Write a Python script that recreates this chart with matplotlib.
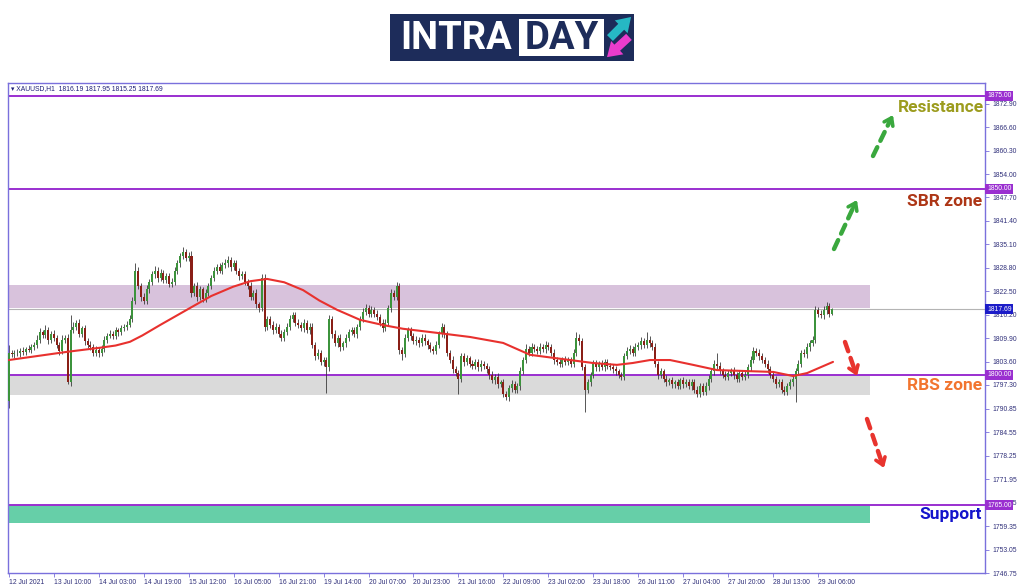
import matplotlib
matplotlib.use('Agg')
import matplotlib.pyplot as plt
from matplotlib.patches import Rectangle
from matplotlib.transforms import blended_transform_factory

# ---------------- data ----------------
symbol_header = "\u25be XAUUSD,H1  1816.19 1817.95 1815.25 1817.69"
first_open = 1793.0
closes = [
    1806.0, 1805.5, 1806.0, 1805.8, 1806.5, 1806.2, 1807.0, 1806.8, 1807.5, 1808.0,
    1809.5, 1811.5, 1810.8, 1812.0, 1809.5, 1811.0, 1810.0, 1808.0, 1806.5, 1809.5,
    1810.0, 1798.0, 1812.0, 1813.0, 1814.0, 1811.0, 1812.5, 1809.0, 1808.0, 1807.5,
    1806.0, 1806.8, 1806.0, 1807.0, 1809.5, 1810.5, 1811.0, 1810.5, 1812.0, 1811.5,
    1812.5, 1813.0, 1813.5, 1815.0, 1820.0, 1828.0, 1824.0, 1821.0, 1820.0, 1823.0,
    1825.0, 1827.0, 1828.0, 1826.0, 1827.5, 1825.5, 1826.5, 1824.5, 1825.0, 1828.0,
    1830.0, 1832.0, 1833.0, 1831.5, 1832.0, 1822.0, 1824.0, 1821.0, 1823.0, 1820.5,
    1822.0, 1824.0, 1826.0, 1828.0, 1829.0, 1828.0, 1829.5, 1830.0, 1831.0, 1829.0,
    1830.0, 1828.0, 1826.5, 1827.0, 1825.0, 1824.0, 1821.0, 1822.0, 1819.0, 1818.0,
    1826.0, 1813.0, 1815.0, 1813.5, 1812.0, 1813.0, 1811.0, 1810.0, 1811.5, 1813.0,
    1815.0, 1816.0, 1814.0, 1813.5, 1812.5, 1814.0, 1812.0, 1813.0, 1808.0, 1805.0,
    1806.0, 1803.5, 1804.0, 1802.0, 1815.0, 1811.0, 1808.5, 1810.0, 1807.5, 1808.5,
    1810.0, 1811.5, 1812.0, 1811.0, 1813.0, 1815.0, 1817.0, 1818.0, 1816.5, 1817.5,
    1816.5, 1815.5, 1814.0, 1812.5, 1814.0, 1818.0, 1822.0, 1821.0, 1824.0, 1806.7,
    1805.5, 1810.0, 1812.0, 1810.5, 1809.0, 1809.5, 1808.5, 1810.0, 1809.0, 1808.0,
    1807.0, 1806.5, 1808.0, 1811.0, 1813.0, 1811.0, 1806.0, 1804.0, 1801.5, 1800.5,
    1799.0, 1805.0, 1803.5, 1804.5, 1803.0, 1802.5, 1803.5, 1802.0, 1803.0, 1802.5,
    1801.5, 1800.0, 1798.5, 1799.5, 1797.5, 1798.0, 1795.0, 1794.0, 1796.5, 1797.5,
    1796.0, 1797.0, 1801.0, 1804.0, 1807.0, 1806.0, 1807.5, 1807.0, 1806.5, 1807.5,
    1807.0, 1808.0, 1807.5, 1806.0, 1804.0, 1803.5, 1803.0, 1804.0, 1803.5, 1804.0,
    1803.0, 1806.0, 1810.0, 1809.0, 1802.0, 1796.0, 1798.0, 1800.0, 1803.0, 1802.0,
    1803.0, 1802.0, 1803.5, 1802.5, 1802.0, 1801.5, 1801.0, 1800.0, 1799.5, 1805.0,
    1806.5, 1807.0, 1806.0, 1807.5, 1808.0, 1809.0, 1808.0, 1809.5, 1808.5, 1807.5,
    1803.0, 1800.0, 1801.0, 1799.0, 1798.0, 1798.5, 1797.5, 1798.0, 1797.0, 1798.5,
    1797.5, 1798.0, 1797.0, 1798.0, 1796.0, 1795.0, 1797.0, 1795.5, 1797.0, 1799.0,
    1801.0, 1803.0, 1802.5, 1801.0, 1800.0, 1799.5, 1800.5, 1801.0, 1800.0, 1799.0,
    1800.5, 1799.5, 1800.0, 1802.0, 1804.0, 1806.5, 1806.0, 1805.0, 1804.0, 1803.0,
    1801.5, 1800.0, 1799.0, 1797.5, 1798.0, 1796.0, 1795.5, 1797.0, 1798.0, 1799.0,
    1801.0, 1803.0, 1806.0, 1805.5, 1807.5, 1808.5, 1809.5, 1817.5, 1816.5, 1816.0,
    1817.5, 1818.5, 1816.5, 1817.69,
]
upper_wicks = [
    2.0, 0.8, 0.6, 1.0, 0.7, 0.9, 0.6, 1.1, 0.8, 0.9,
    1.2, 1.0, 0.7, 1.3, 0.8, 0.9, 1.0, 0.7, 0.9, 1.1,
    0.8, 1.0, 4.0, 1.2, 0.8, 1.0, 0.7, 0.9, 0.8, 1.0,
    0.7, 0.9, 0.8, 1.0, 0.9, 0.7, 1.1, 0.8, 0.9, 0.7,
    1.0, 0.8, 0.9, 1.2, 1.0, 2.0, 1.0, 0.8, 0.9, 1.1,
    0.8, 1.0, 1.2, 0.9, 1.0, 0.7, 0.9, 0.8, 1.0, 0.9,
    1.0, 0.8, 1.5, 0.9, 1.0, 1.2, 0.8, 1.0, 0.9, 0.7,
    1.0, 0.8, 0.9, 1.1, 0.8, 1.0, 0.9, 1.2, 1.0, 0.8,
    1.0, 0.9, 0.7, 1.0, 0.8, 0.9, 1.1, 0.8, 1.0, 0.7,
    1.0, 1.2, 0.9, 0.8, 1.0, 0.9, 0.7, 1.0, 0.8, 0.9,
    1.0, 0.9, 0.8, 1.0, 0.7, 0.9, 0.8, 1.0, 0.9, 0.8,
    1.0, 0.7, 0.9, 0.8, 1.0, 0.9, 1.1, 0.8, 0.9, 0.7,
    1.0, 0.8, 0.9, 1.0, 0.8, 0.9, 1.0, 1.1, 0.8, 0.9,
    0.7, 1.0, 0.8, 0.9, 1.0, 0.8, 1.0, 0.9, 1.0, 0.8,
    0.9, 1.0, 0.8, 0.9, 0.7, 1.0, 0.8, 0.9, 1.0, 0.7,
    0.9, 0.8, 1.0, 0.9, 1.0, 0.8, 0.9, 0.7, 1.0, 0.8,
    0.9, 1.0, 0.8, 0.9, 0.7, 1.0, 0.8, 0.9, 1.0, 0.7,
    0.8, 0.9, 1.0, 0.8, 0.9, 0.7, 1.0, 0.8, 0.9, 1.0,
    0.8, 0.9, 1.0, 0.8, 1.2, 0.9, 1.0, 0.8, 0.9, 1.0,
    0.8, 1.1, 0.9, 0.8, 1.0, 0.7, 0.9, 0.8, 1.0, 0.9,
    0.8, 1.0, 1.5, 0.9, 0.8, 1.0, 0.9, 0.8, 1.0, 0.9,
    0.8, 1.0, 0.7, 0.9, 0.8, 1.0, 0.9, 0.7, 0.8, 1.0,
    0.9, 1.0, 0.8, 1.0, 0.9, 1.2, 0.8, 2.0, 0.9, 0.8,
    1.0, 0.8, 0.9, 0.7, 1.0, 0.8, 0.9, 0.7, 1.0, 0.8,
    0.9, 0.8, 1.0, 0.9, 0.8, 1.0, 0.9, 0.8, 1.0, 0.9,
    0.8, 1.0, 3.0, 0.9, 0.8, 1.0, 0.9, 0.8, 1.0, 0.7,
    0.9, 0.8, 1.0, 0.9, 1.0, 1.0, 0.8, 0.9, 1.0, 0.8,
    0.9, 0.8, 1.0, 0.7, 0.9, 0.8, 1.0, 0.9, 0.8, 1.0,
    0.9, 1.0, 0.8, 0.9, 1.0, 0.8, 0.9, 1.0, 0.8, 0.9,
    1.0, 1.1, 0.8, 0.3,
]
lower_wicks = [
    2.0, 0.8, 0.9, 0.7, 1.0, 0.8, 0.9, 0.7, 1.0, 0.8,
    0.9, 1.0, 0.8, 0.9, 1.2, 0.8, 1.0, 0.9, 1.1, 0.8,
    1.0, 0.5, 0.9, 0.8, 1.0, 0.9, 0.8, 1.0, 0.7, 0.9,
    1.0, 0.8, 1.2, 0.9, 0.8, 1.0, 0.7, 0.9, 0.8, 1.0,
    0.9, 0.8, 1.0, 0.7, 0.9, 1.0, 0.8, 1.2, 1.0, 0.9,
    1.0, 0.8, 0.9, 1.0, 0.7, 0.9, 0.8, 1.0, 0.9, 0.8,
    1.0, 0.9, 0.8, 1.0, 0.9, 1.0, 0.8, 1.1, 0.9, 1.0,
    0.8, 0.9, 1.0, 0.8, 0.9, 0.7, 1.0, 0.8, 0.9, 1.0,
    0.8, 0.9, 1.0, 0.8, 0.9, 1.0, 0.8, 0.9, 1.1, 1.0,
    0.9, 1.2, 0.8, 0.9, 1.0, 0.8, 0.9, 1.0, 0.8, 0.9,
    1.0, 0.8, 0.9, 1.0, 0.7, 0.9, 0.8, 1.0, 0.9, 1.0,
    0.8, 0.9, 1.0, 6.8, 0.9, 1.0, 0.8, 0.9, 1.0, 0.8,
    0.9, 1.0, 0.8, 0.9, 1.0, 0.8, 0.9, 1.0, 0.8, 0.9,
    1.0, 0.8, 0.9, 1.0, 0.8, 0.9, 1.0, 0.8, 0.9, 1.0,
    1.5, 0.8, 0.9, 1.0, 0.8, 0.9, 1.0, 0.8, 0.9, 1.0,
    0.8, 0.9, 1.0, 0.8, 0.9, 1.0, 0.8, 0.9, 1.0, 0.8,
    4.0, 0.9, 1.0, 0.8, 0.9, 1.0, 0.8, 0.9, 1.0, 0.8,
    0.9, 1.0, 0.8, 0.9, 1.0, 0.8, 1.0, 0.7, 0.9, 1.0,
    0.8, 0.9, 1.0, 0.8, 0.9, 1.0, 0.8, 0.9, 1.0, 0.8,
    0.9, 1.0, 0.8, 0.9, 1.0, 0.8, 0.9, 1.0, 0.8, 0.9,
    1.0, 0.8, 0.9, 1.0, 0.8, 6.0, 0.9, 1.0, 0.8, 0.9,
    1.0, 0.8, 0.9, 1.0, 0.8, 0.9, 1.0, 0.8, 0.9, 1.0,
    0.8, 0.9, 1.0, 0.8, 0.9, 1.0, 0.8, 0.9, 1.0, 0.8,
    0.9, 1.0, 0.8, 0.9, 1.0, 0.8, 0.9, 1.0, 0.8, 0.9,
    1.0, 0.8, 0.9, 1.0, 0.8, 0.9, 1.0, 0.8, 0.9, 1.0,
    0.8, 0.9, 1.0, 0.8, 0.9, 1.0, 0.8, 0.9, 1.0, 0.8,
    0.9, 1.0, 0.8, 0.9, 1.0, 0.8, 0.9, 1.0, 0.8, 0.9,
    1.0, 0.8, 0.9, 1.0, 0.8, 0.9, 1.0, 0.8, 0.9, 1.0,
    6.3, 0.9, 1.0, 0.8, 0.9, 1.0, 0.8, 0.9, 1.0, 0.8,
    0.9, 1.0, 0.8, 0.3,
]
# moving average (red line), read at sample bars
ma_bars = [0, 20.7, 32.4, 38.0, 43.1, 47.5, 53.8, 64.5, 72.0, 79.8, 86.0, 91.9,
           98.0, 104.7, 110.5, 116.8, 125, 133.2, 140.3, 152.4, 164.1, 175.9,
           185.5, 199.7, 207.9, 216.4, 222.0, 228.2, 235.3, 243.5, 252, 263.8,
           272, 279.1, 284.1, 293.3]
ma_vals = [1804.0, 1806.2, 1807.3, 1807.9, 1808.9, 1810.6, 1813.4, 1818.0, 1821.2,
           1823.7, 1825.2, 1825.8, 1824.9, 1822.8, 1820.0, 1817.5, 1814.8, 1813.4,
           1812.4, 1811.3, 1810.2, 1808.6, 1805.4, 1804.0, 1803.2, 1802.7, 1803.2,
           1804.0, 1804.0, 1802.7, 1801.3, 1801.0, 1800.8, 1799.7, 1800.5, 1803.5]

xtick_labels = ["12 Jul 2021", "13 Jul 10:00", "14 Jul 03:00", "14 Jul 19:00",
                "15 Jul 12:00", "16 Jul 05:00", "16 Jul 21:00", "19 Jul 14:00",
                "20 Jul 07:00", "20 Jul 23:00", "21 Jul 16:00", "22 Jul 09:00",
                "23 Jul 02:00", "23 Jul 18:00", "26 Jul 11:00", "27 Jul 04:00",
                "27 Jul 20:00", "28 Jul 13:00", "29 Jul 06:00"]
bars_per_label = 16
ytick_labels = ["1872.90", "1866.60", "1860.30", "1854.00", "1847.70", "1841.40",
                "1835.10", "1828.80", "1822.50", "1816.20", "1809.90", "1803.60",
                "1797.30", "1790.85", "1784.55", "1778.25", "1771.95", "1765.65",
                "1759.35", "1753.05", "1746.75"]

level_lines = [1875.00, 1850.00, 1800.00, 1765.00]
current_price = 1817.69
zone_upper = (1818.0, 1824.2)     # purple zone
zone_rbs = (1794.6, 1800.0)       # grey zone
zone_support = (1760.2, 1765.0)   # green zone

# ---------------- figure ----------------
W, H = 1024, 587
fig = plt.figure(figsize=(W / 100, H / 100), dpi=100)
fig.patch.set_facecolor('white')

L, R, T, B = 8, 985, 83, 573
ax = fig.add_axes([L / W, 1 - B / H, (R - L) / W, (B - T) / H])
px_per_bar = 2.81
x0 = -0.3
ax.set_xlim(x0, x0 + (R - L) / px_per_bar)
px_per_unit = 3.72
ymin = 1746.75
ax.set_ylim(ymin, ymin + (B - T) / px_per_unit)

frame_col = '#7a70dc'
for s in ax.spines.values():
    s.set_color(frame_col)
    s.set_linewidth(1.0)

tick_font = dict(family='Liberation Sans', size=4.9)
text_col = '#30307a'

# y axis on the right
ax.yaxis.tick_right()
ax.set_yticks([float(v) for v in ytick_labels])
ax.set_yticklabels(ytick_labels, fontdict=tick_font, color=text_col)
ax.tick_params(axis='y', direction='out', length=3, width=0.6, color=frame_col, pad=2)

# x axis
n = len(closes)
xt = list(range(0, bars_per_label * len(xtick_labels), bars_per_label))
ax.set_xticks(xt)
ax.set_xticklabels(xtick_labels, fontdict=tick_font, color=text_col)
for lbl in ax.get_xticklabels():
    lbl.set_horizontalalignment('left')
ax.tick_params(axis='x', direction='out', length=3, width=0.6, color=frame_col, pad=1.5)

# zones
zone_end = 306.5
for (lo, hi), col in [(zone_upper, '#d8c2dc'), (zone_rbs, '#dadada'), (zone_support, '#66cfa8')]:
    ax.add_patch(Rectangle((x0, lo), zone_end - x0, hi - lo, facecolor=col,
                           edgecolor='none', zorder=0.5))

# level lines
for lv in level_lines:
    ax.axhline(lv, color='#9a2fd0', lw=1.4, zorder=1)
ax.axhline(current_price, color='#b4b4b4', lw=0.8, zorder=1)

# candles
opens = [first_open] + closes[:-1]
xs = list(range(n))
highs = [max(o, c) + u for o, c, u in zip(opens, closes, upper_wicks)]
lows = [min(o, c) - d for o, c, d in zip(opens, closes, lower_wicks)]
ax.vlines(xs, lows, highs, color='#3a3a3a', lw=0.6, zorder=2)
bull_col, bear_col = '#3c933c', '#8a1f17'
bottoms = [min(o, c) for o, c in zip(opens, closes)]
heights = [max(abs(c - o), 0.15) for o, c in zip(opens, closes)]
colors = [bull_col if c >= o else bear_col for o, c in zip(opens, closes)]
ax.bar(xs, heights, bottom=bottoms, width=0.72, color=colors, edgecolor='none', zorder=3)

# moving average
ax.plot(ma_bars, ma_vals, color='#e8312e', lw=1.5, zorder=4,
        solid_capstyle='round', solid_joinstyle='round')

# price labels on the axis
bt = blended_transform_factory(ax.transAxes, ax.transData)
for lv in level_lines:
    ax.text(1.002, lv, f"{lv:.2f}", transform=bt, fontdict=tick_font, color='white',
            va='center', ha='left', zorder=6, clip_on=False,
            bbox=dict(boxstyle='square,pad=0.25', fc='#9a2fd0', ec='none'))
ax.text(1.002, current_price, f"{current_price:.2f}", transform=bt, fontdict=tick_font,
        color='white', va='center', ha='left', zorder=6, clip_on=False,
        bbox=dict(boxstyle='square,pad=0.25', fc='#1c1cc8', ec='none'))

# header
ax.text(0.003, 0.995, symbol_header, transform=ax.transAxes, fontsize=4.9,
        family=['Liberation Sans', 'DejaVu Sans'], color='#1e1e78', va='top', ha='left')

# ---------------- overlay (pixel coordinates, y down) ----------------
ov = fig.add_axes([0, 0, 1, 1], zorder=10)
ov.set_xlim(0, W)
ov.set_ylim(H, 0)
ov.axis('off')

# logo
navy = '#1d2c5a'
ov.add_patch(Rectangle((390, 14), 244, 47, facecolor=navy, edgecolor='none'))
ov.add_patch(Rectangle((519, 19), 85, 37, facecolor='white', edgecolor='none'))
ov.text(456, 38.5, "INTRA", color='white', fontsize=27.5, fontweight='bold',
        family='Roboto', ha='center', va='center')
ov.text(561.5, 38.5, "DAY", color=navy, fontsize=27.5, fontweight='bold',
        family='Roboto', ha='center', va='center')
ov.annotate('', xy=(633, 15), xytext=(608, 40),
            arrowprops=dict(arrowstyle='simple,head_width=1.3,head_length=1.0,tail_width=0.6',
                            color='#26b8c4', lw=0))
ov.annotate('', xy=(605, 59), xytext=(631, 35),
            arrowprops=dict(arrowstyle='simple,head_width=1.3,head_length=1.0,tail_width=0.6',
                            color='#ea3ccc', lw=0))

# zone labels
lab_font = dict(family='Roboto', fontweight='bold', fontsize=12.5)
ov.text(984, 108, "Resistance", color='#9c9c1e', ha='right', va='center', **lab_font)
ov.text(982, 201, "SBR zone", color='#ad3616', ha='right', va='center', **lab_font)
ov.text(982, 385, "RBS zone", color='#f2752f', ha='right', va='center', **lab_font)
ov.text(982, 515, "Support", color='#1414cc', ha='right', va='center', **lab_font)

# dashed arrows
def dashed_arrow(p0, p1, p2, col):
    ov.annotate('', xy=p1, xytext=p0,
                arrowprops=dict(arrowstyle='-', color=col, lw=3.2,
                                linestyle=(0, (2.2, 1.6)), shrinkA=0, shrinkB=0))
    ov.annotate('', xy=p2, xytext=p1,
                arrowprops=dict(arrowstyle='->,head_length=0.5,head_width=0.35',
                                color=col, lw=2.6, shrinkA=0, shrinkB=0))

green_a = '#3aa83e'
red_a = '#e8342e'
dashed_arrow((873, 156), (889, 123), (893, 115), green_a)
dashed_arrow((834, 249), (853, 208), (857, 200), green_a)
dashed_arrow((845, 342), (854, 368), (857, 376), red_a)
dashed_arrow((867, 419), (881, 460), (884, 468), red_a)

fig.savefig('out.png', dpi=100, facecolor='white')
